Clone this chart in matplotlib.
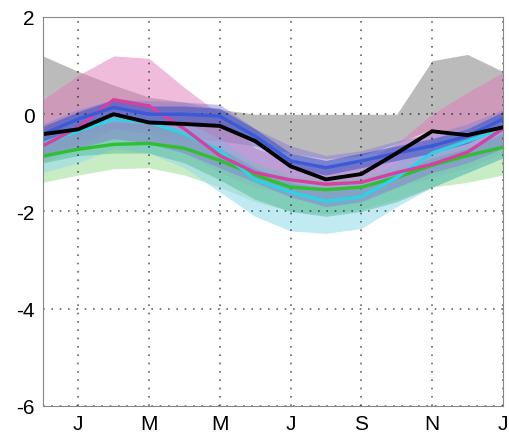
import numpy as np
import matplotlib
matplotlib.use("Agg")
import matplotlib.pyplot as plt

plt.rcParams['font.family'] = ['Liberation Sans', 'DejaVu Sans']

# monthly values, Dec .. Jan (14 points)
months = np.arange(14)
tick_pos = [1, 3, 5, 7, 9, 11, 13]
tick_labels = ["J", "M", "M", "J", "S", "N", "J"]

obs = [-0.41, -0.31, 0.0, -0.17, -0.2, -0.24, -0.55, -1.07, -1.34, -1.23, -0.8, -0.35, -0.43, -0.27]
grey_lo = [-0.8, -0.6, -0.3, -0.4, -0.5, -0.55, -0.65, -0.8, -0.92, -0.85, -0.6, -0.3, -0.35, -0.2]
grey_hi = [1.2, 0.88, 0.6, 0.35, 0.25, 0.1, 0.0, 0.0, 0.0, 0.0, 0.0, 1.1, 1.23, 0.88]

magenta = [-0.65, -0.27, 0.3, 0.17, -0.3, -0.85, -1.2, -1.35, -1.44, -1.4, -1.2, -1.03, -0.78, -0.3]
pink_hi = [0.3, 0.8, 1.2, 1.15, 0.55, 0.0, -0.7, -0.95, -1.05, -1.0, -0.6, 0.0, 0.45, 0.86]
pink_lo = [-1.0, -0.7, -0.3, -0.4, -0.8, -1.2, -1.5, -1.65, -1.75, -1.7, -1.5, -1.3, -1.1, -0.8]

blue = [-0.41, -0.1, 0.14, 0.0, 0.0, -0.04, -0.45, -0.96, -1.1, -0.96, -0.8, -0.65, -0.45, -0.1]
blue_hi = [-0.25, 0.05, 0.3, 0.17, 0.17, 0.12, -0.3, -0.8, -0.95, -0.8, -0.65, -0.5, -0.3, 0.05]
blue_lo = [-0.56, -0.25, -0.02, -0.15, -0.15, -0.2, -0.6, -1.1, -1.25, -1.1, -0.95, -0.8, -0.6, -0.25]

lav_hi = [-0.2, 0.1, 0.3, 0.28, 0.25, 0.2, -0.3, -0.65, -0.85, -0.75, -0.55, -0.4, -0.2, 0.1]
lav_lo = [-0.9, -0.7, -0.5, -0.6, -0.8, -1.1, -1.4, -1.7, -1.9, -1.8, -1.5, -1.2, -1.0, -0.7]

cyan = [-0.6, -0.35, -0.1, -0.17, -0.4, -0.75, -1.35, -1.6, -1.79, -1.7, -1.3, -0.8, -0.55, -0.3]
cyan_hi = [-0.35, -0.1, 0.1, 0.05, -0.15, -0.5, -1.05, -1.3, -1.5, -1.4, -1.0, -0.55, -0.3, -0.05]
cyan_lo = [-1.2, -1.0, -0.7, -0.8, -1.1, -1.6, -2.1, -2.4, -2.45, -2.35, -1.9, -1.5, -1.2, -0.9]

teal_hi = [-0.5, -0.3, -0.15, -0.2, -0.4, -0.7, -1.1, -1.4, -1.55, -1.5, -1.2, -0.9, -0.7, -0.4]
teal_lo = [-1.0, -0.85, -0.8, -0.8, -1.0, -1.35, -1.75, -2.0, -2.1, -2.0, -1.8, -1.5, -1.2, -0.9]

green = [-0.86, -0.72, -0.62, -0.6, -0.7, -0.95, -1.25, -1.5, -1.55, -1.5, -1.3, -1.05, -0.85, -0.68]
green_hi = [-0.6, -0.4, -0.3, -0.3, -0.4, -0.65, -1.0, -1.25, -1.35, -1.3, -1.1, -0.85, -0.65, -0.45]
green_lo = [-1.4, -1.25, -1.12, -1.1, -1.25, -1.5, -1.8, -2.0, -2.05, -1.95, -1.75, -1.5, -1.4, -1.25]


fig = plt.figure(figsize=(5.1, 4.39), dpi=100)
ax = fig.add_axes([0.084, 0.073, 0.902, 0.886])

# bands
ax.fill_between(months, grey_lo, grey_hi, color="#aaaaaa", alpha=0.8, lw=0)
ax.fill_between(months, pink_lo, pink_hi, color="#e27ab8", alpha=0.5, lw=0)
ax.fill_between(months, green_lo, green_hi, color="#a4e09c", alpha=0.6, lw=0)
ax.fill_between(months, cyan_lo, cyan_hi, color="#9adcec", alpha=0.6, lw=0)
ax.fill_between(months, teal_lo, teal_hi, color="#3fae86", alpha=0.4, lw=0)
ax.fill_between(months, lav_lo, lav_hi, color="#8a7fd2", alpha=0.5, lw=0)
ax.fill_between(months, blue_lo, blue_hi, color="#3a4fc0", alpha=0.55, lw=0)

# lines
ax.plot(months, green, color="#2fbf2f", lw=2.4)
ax.plot(months, cyan, color="#2fd2e4", lw=2.4)
ax.plot(months, magenta, color="#d6409e", lw=2.4)
ax.plot(months, blue, color="#3a5ad8", lw=2.4)
ax.plot(months, obs, color="black", lw=2.8)

ax.set_xlim(0, 13)
ax.set_ylim(-6, 2)
ax.set_xticks(tick_pos)
ax.set_xticklabels(tick_labels)
ax.set_yticks([-6, -4, -2, 0, 2])
ax.set_yticklabels(["-6", "-4", "-2", "0", "2"])
ax.tick_params(axis="both", length=0, labelsize=15, pad=6)
ax.grid(which="major", axis="both", color="black", alpha=0.6, linestyle=(0, (1, 4)), linewidth=1.2)
for s in ax.spines.values():
    s.set_color("#888888")
    s.set_linewidth(0.8)

plt.savefig("out.png", dpi=100)
